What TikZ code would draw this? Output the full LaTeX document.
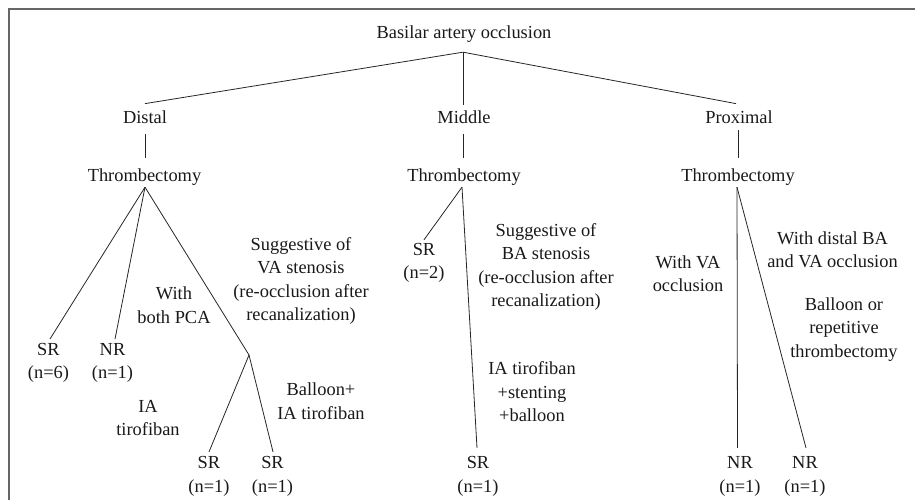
\documentclass[tikz,border=0pt]{standalone}
\usepackage{fontspec}
\setmainfont{Liberation Serif}
\begin{document}
\begin{tikzpicture}[x=1pt,y=-1pt,
  lbl/.style={inner sep=0pt, align=center, font=\fontsize{18.4}{23.5}\selectfont, text=black!90},
  one/.style={lbl, anchor=base},
  conn/.style={line width=0.8pt, black!85}]
\useasboundingbox (0,0) rectangle (915,500);
\draw[black!60, line width=1.3pt] (915,9) -- (9,9) -- (9,500);

% top levels
\node[one] (root) at (464,39) {Basilar artery occlusion};
\node[one] (dist) at (145,124) {Distal};
\node[one] (mid) at (464,124) {Middle};
\node[one] (prox) at (739,124) {Proximal};
\node[one] (thA) at (144.5,181) {Thrombectomy};
\node[one] (thB) at (464,181) {Thrombectomy};
\node[one] (thC) at (738,181) {Thrombectomy};

% distal branch
\node[lbl] (sr6) at (48.5,363) {SR\\(n=6)};
\node[lbl] (nr1) at (112.5,363) {NR\\(n=1)};
\node[lbl] (pca) at (174,305.3) {With\\both PCA};
\node[lbl] (vas) at (301,280.8) {Suggestive of\\VA stenosis\\(re-occlusion after\\recanalization)};
\node[lbl] (iat) at (148,418) {IA\\tirofiban};
\node[lbl] (bal) at (321,401) {Balloon+\\IA tirofiban};
\coordinate (jn) at (249,355);
\node[lbl] (sra) at (209,476.5) {SR\\(n=1)};
\node[lbl] (srb) at (272.5,476.5) {SR\\(n=1)};

% middle branch
\node[lbl] (sr2) at (424,263) {SR\\(n=2)};
\node[lbl] (bas) at (546,267) {Suggestive of\\BA stenosis\\(re-occlusion after\\recanalization)};
\node[lbl] (ias) at (532,392) {IA tirofiban\\+stenting\\+balloon};
\node[lbl] (src) at (478,476.5) {SR\\(n=1)};

% proximal branch
\node[lbl] (wva) at (688,273.5) {With VA\\occlusion};
\node[lbl] (wdb) at (832.5,250) {With distal BA\\and VA occlusion};
\node[lbl] (bor) at (844,329.3) {Balloon or\\repetitive\\thrombectomy};
\node[lbl] (nra) at (740,476.5) {NR\\(n=1)};
\node[lbl] (nrb) at (805,476.5) {NR\\(n=1)};

% connectors
\draw[conn] ([xshift=-1pt,yshift=-9pt]root.south) -- ([yshift=7.4pt]dist.north);
\draw[conn] ([xshift=-1pt,yshift=-9pt]root.south) -- ([xshift=-1pt,yshift=6.4pt]mid.north);
\draw[conn] ([xshift=-1pt,yshift=-9pt]root.south) -- ([xshift=-3pt,yshift=7.4pt]prox.north);

\draw[conn] ([yshift=-10pt]dist.south) -- ([xshift=0.5pt,yshift=10.4pt]thA.north);
\draw[conn] ([xshift=-1pt,yshift=-10pt]mid.south) -- ([xshift=-1pt,yshift=10.4pt]thB.north);
\draw[conn] ([xshift=-1pt,yshift=-6pt]prox.south) -- ([yshift=10.4pt]thC.north);

\draw[conn] ([xshift=0.5pt,yshift=-2pt]thA.south) -- ([xshift=1.5pt,yshift=4pt]sr6.north);
\draw[conn] ([xshift=0.5pt,yshift=-2pt]thA.south) -- ([xshift=2.5pt,yshift=4pt]nr1.north);
\draw[conn] ([xshift=0.5pt,yshift=-2pt]thA.south) -- (jn);
\draw[conn] (jn) -- ([yshift=4.6pt]sra.north);
\draw[conn] (jn) -- ([xshift=0.5pt,yshift=4.6pt]srb.north);

\draw[conn] ([xshift=-2pt,yshift=-2pt]thB.south) -- ([yshift=3.2pt]sr2.north);
\draw[conn] ([xshift=-2pt,yshift=-2pt]thB.south) -- ([xshift=-1pt,yshift=8.6pt]src.north);

\draw[conn] ([xshift=-1pt,yshift=-2pt]thC.south) -- ([xshift=-2.5pt,yshift=8.6pt]nra.north);
\draw[conn] ([xshift=-1pt,yshift=-2pt]thC.south) -- ([xshift=1pt,yshift=8.6pt]nrb.north);
\end{tikzpicture}
\end{document}
